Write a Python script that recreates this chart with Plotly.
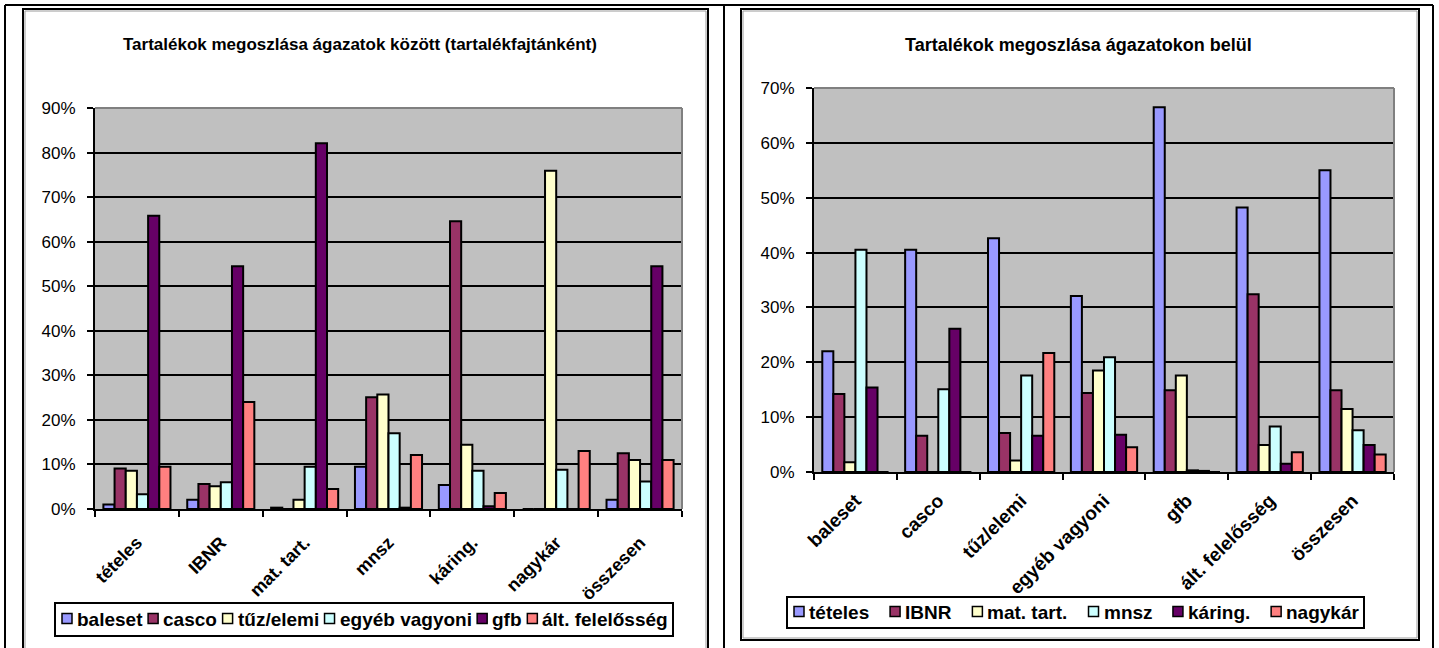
import plotly.graph_objects as go

W, H = 1439, 648

# ---- left chart: reserves split across lines of business, per reserve type ----
left_title = "Tartalékok megoszlása ágazatok között (tartalékfajtánként)"
left_categories = ["tételes", "IBNR", "mat. tart.", "mnsz", "káring.", "nagykár", "összesen"]
left_series = ["baleset", "casco", "tűz/elemi", "egyéb vagyoni", "gfb", "ált. felelősség"]
left_baleset = [0.010, 0.021, 0.003, 0.095, 0.054, 0.0, 0.021]
left_casco = [0.091, 0.056, 0.0, 0.251, 0.646, 0.0, 0.125]
left_tuz = [0.086, 0.051, 0.021, 0.257, 0.144, 0.759, 0.110]
left_egyeb = [0.033, 0.060, 0.095, 0.170, 0.086, 0.088, 0.062]
left_gfb = [0.658, 0.545, 0.821, 0.003, 0.006, 0.0, 0.545]
left_alt = [0.095, 0.240, 0.045, 0.121, 0.036, 0.130, 0.110]
left_values = [left_baleset, left_casco, left_tuz, left_egyeb, left_gfb, left_alt]
left_yticks = [0, 0.1, 0.2, 0.3, 0.4, 0.5, 0.6, 0.7, 0.8, 0.9]

# ---- right chart: reserve types within each line of business ----
right_title = "Tartalékok megoszlása ágazatokon belül"
right_categories = ["baleset", "casco", "tűz/elemi", "egyéb vagyoni", "gfb", "ált. felelősség", "összesen"]
right_series = ["tételes", "IBNR", "mat. tart.", "mnsz", "káring.", "nagykár"]
right_teteles = [0.220, 0.405, 0.426, 0.321, 0.665, 0.482, 0.550]
right_ibnr = [0.142, 0.066, 0.071, 0.144, 0.149, 0.324, 0.149]
right_mat = [0.018, 0.0, 0.021, 0.185, 0.176, 0.049, 0.115]
right_mnsz = [0.405, 0.151, 0.176, 0.209, 0.003, 0.083, 0.076]
right_karing = [0.154, 0.261, 0.066, 0.068, 0.002, 0.015, 0.049]
right_nagykar = [0.0, 0.0, 0.217, 0.045, 0.0, 0.036, 0.032]
right_values = [right_teteles, right_ibnr, right_mat, right_mnsz, right_karing, right_nagykar]
right_yticks = [0, 0.1, 0.2, 0.3, 0.4, 0.5, 0.6, 0.7]

palette = ["#9999FF", "#993366", "#FFFFCC", "#CCFFFF", "#660066", "#FF8080"]

FONT = "Liberation Sans, Arial, sans-serif"

# Arial/Liberation Sans Bold advance widths (1/1000 em), used to lay out the legend rows
BOLD_W = {" ": 278, ".": 278, "/": 278, "I": 278, "B": 722, "N": 722, "R": 722,
          "a": 556, "b": 611, "c": 556, "e": 556, "f": 333, "g": 611, "i": 278, "k": 556,
          "l": 278, "m": 889, "n": 611, "o": 611, "r": 389, "s": 556, "t": 333, "u": 611,
          "v": 556, "y": 556, "z": 500, "á": 556, "é": 556, "ő": 611, "ű": 611}


def text_width(s, size):
    return sum(BOLD_W.get(ch, 556) for ch in s) * size / 1000.0


def px_x(x):
    return x / W


def px_y(y):
    return 1 - y / H


fig = go.Figure()

for name, vals, col in zip(left_series, left_values, palette):
    fig.add_trace(go.Bar(x=left_categories, y=vals, name=name, xaxis="x", yaxis="y",
                         marker=dict(color=col, line=dict(color="#000000", width=2)),
                         showlegend=False))

for name, vals, col in zip(right_series, right_values, palette):
    fig.add_trace(go.Bar(x=right_categories, y=vals, name=name, xaxis="x2", yaxis="y2",
                         marker=dict(color=col, line=dict(color="#000000", width=2)),
                         showlegend=False))


def xaxis_style(standoff, size):
    return dict(type="category", showgrid=False, showline=True, linecolor="#000000", linewidth=2,
                ticks="outside", ticklen=6, tickwidth=2, tickcolor="#000000", tickson="boundaries",
                tickangle=-45, ticklabelstandoff=standoff, automargin=False,
                tickfont=dict(family=FONT, size=size, color="#000000", weight="bold"),
                fixedrange=True)


yaxis_style = dict(showgrid=True, gridcolor="#000000", gridwidth=2, zeroline=False, showline=True,
                   linecolor="#000000", linewidth=2, ticks="outside", ticklen=6, tickwidth=2,
                   tickcolor="#000000", tickformat=".0%", ticklabelstandoff=8, automargin=False,
                   tickfont=dict(family=FONT, size=17, color="#000000"), fixedrange=True)

fig.update_layout(
    template="none",
    width=W, height=H, autosize=False, showlegend=False,
    margin=dict(l=0, r=0, t=0, b=0, pad=0, autoexpand=False),
    paper_bgcolor="#FFFFFF", plot_bgcolor="#C0C0C0",
    barmode="group", bargap=0.2, bargroupgap=0,
    xaxis=dict(domain=[px_x(95), px_x(682)], anchor="y", **xaxis_style(14, 18)),
    yaxis=dict(domain=[px_y(509), px_y(108)], anchor="x", range=[0, 0.9],
               tickvals=left_yticks, **yaxis_style),
    xaxis2=dict(domain=[px_x(814), px_x(1394)], anchor="y2", **xaxis_style(8, 19)),
    yaxis2=dict(domain=[px_y(472), px_y(88)], anchor="x2", range=[0, 0.7],
                tickvals=right_yticks, **yaxis_style),
)

shapes = []
annotations = []

# page table frame
for seg in [(5, 5, 1433, 5), (5, 5, 5, 700), (724, 5, 724, 700), (1433, 5, 1433, 700)]:
    shapes.append(dict(type="line", xref="paper", yref="paper",
                       x0=px_x(seg[0]), y0=px_y(seg[1]), x1=px_x(seg[2]), y1=px_y(seg[3]),
                       line=dict(color="#000000", width=2)))
# chart frames
for (x0, y0, x1, y1) in [(23, 9, 708, 700), (741, 9, 1419, 640)]:
    shapes.append(dict(type="rect", xref="paper", yref="paper",
                       x0=px_x(x0), y0=px_y(y1), x1=px_x(x1), y1=px_y(y0),
                       line=dict(color="#000000", width=2), fillcolor="rgba(0,0,0,0)"))
    shapes.append(dict(type="rect", xref="paper", yref="paper",
                       x0=px_x(x0 + 2), y0=px_y(y1 - 2), x1=px_x(x1 - 2), y1=px_y(y0 + 2),
                       line=dict(color="#9A9A9A", width=1), fillcolor="rgba(0,0,0,0)"))
# grey top / right edge of each plot area
for xa, ya in [("x", "y"), ("x2", "y2")]:
    shapes.append(dict(type="line", xref=f"{xa} domain", yref=f"{ya} domain", x0=0, x1=1, y0=1, y1=1,
                       line=dict(color="#808080", width=2), layer="above"))
    shapes.append(dict(type="line", xref=f"{xa} domain", yref=f"{ya} domain", x0=1, x1=1, y0=0, y1=1,
                       line=dict(color="#808080", width=2), layer="above"))


def add_legend(names, colors, box_x0, box_x1, box_y0, box_y1, size, pad=7, sw=10, gap=3):
    """Boxed one-row legend: square swatch + bold label per series, spread evenly."""
    shapes.append(dict(type="rect", xref="paper", yref="paper",
                       x0=px_x(box_x0), x1=px_x(box_x1), y0=px_y(box_y1), y1=px_y(box_y0),
                       line=dict(color="#000000", width=2), fillcolor="#FFFFFF"))
    widths = [sw + gap + text_width(n, size) for n in names]
    spare = (box_x1 - box_x0 - 2 * pad - sum(widths)) / (len(names) - 1)
    yc = (box_y0 + box_y1) / 2
    x = box_x0 + pad
    for n, c, w in zip(names, colors, widths):
        shapes.append(dict(type="rect", xref="paper", yref="paper",
                           x0=px_x(x), x1=px_x(x + sw), y0=px_y(yc + sw / 2 - 1), y1=px_y(yc - sw / 2 - 1),
                           line=dict(color="#000000", width=1.5), fillcolor=c))
        annotations.append(dict(text=n, x=px_x(x + sw + gap), y=px_y(yc), xref="paper", yref="paper",
                                showarrow=False, xanchor="left", yanchor="middle",
                                font=dict(family=FONT, size=size, color="#000000", weight="bold")))
        x += w + spare


add_legend(left_series, palette, 55, 673, 603, 636, 19)
add_legend(right_series, palette, 787, 1364, 597, 628, 19)

annotations += [
    dict(text=left_title, x=px_x(360), y=px_y(45), xref="paper", yref="paper", showarrow=False,
         xanchor="center", yanchor="middle",
         font=dict(family=FONT, size=17, color="#000000", weight="bold")),
    dict(text=right_title, x=px_x(1078), y=px_y(45), xref="paper", yref="paper", showarrow=False,
         xanchor="center", yanchor="middle",
         font=dict(family=FONT, size=18, color="#000000", weight="bold")),
]
fig.update_layout(shapes=shapes, annotations=annotations)

fig.write_html("out.html", config=dict(displayModeBar=False))
